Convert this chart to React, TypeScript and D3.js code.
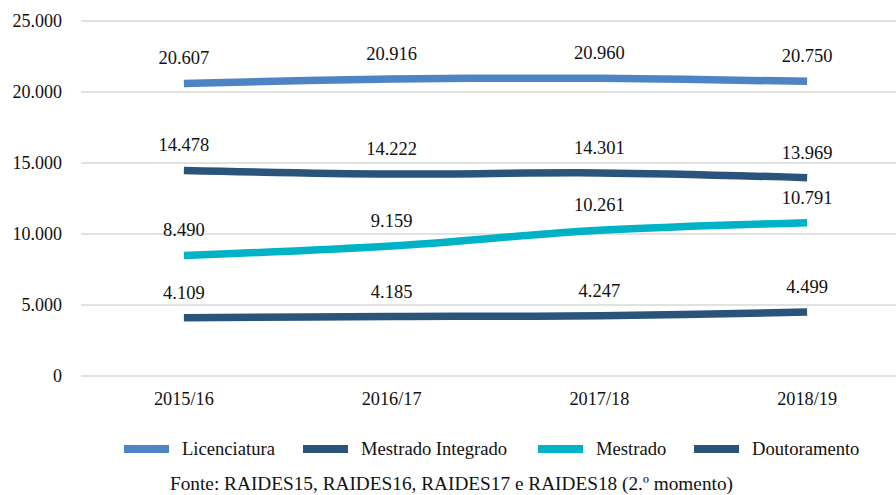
import React from "react";
import * as d3 from "d3";

const categories = ["2015/16", "2016/17", "2017/18", "2018/19"];
const seriesNames = ["Licenciatura", "Mestrado Integrado", "Mestrado", "Doutoramento"];
const licenciatura = [20607, 20916, 20960, 20750];
const mestradoIntegrado = [14478, 14222, 14301, 13969];
const mestrado = [8490, 9159, 10261, 10791];
const doutoramento = [4109, 4185, 4247, 4499];
const yTicks = [0, 5000, 10000, 15000, 20000, 25000];
const colors = ["#4F84C4", "#2A5479", "#00B2C6", "#2A5479"];
const footnote = "Fonte: RAIDES15, RAIDES16, RAIDES17 e RAIDES18 (2.º momento)";

const fmt = (v: number) => {
  const s = String(Math.round(v));
  return s.replace(/\B(?=(\d{3})+(?!\d))/g, ".");
};

const FONT = '"Liberation Serif", "Times New Roman", "DejaVu Serif", serif';
const ts = { fontFamily: FONT };

export default function App() {
  const W = 896, H = 495;
  const x = d3.scaleBand<string>().domain(categories).range([80, 911]);
  const y = d3.scaleLinear().domain([0, 25000]).range([376, 21]);
  const cx = (c: string) => (x(c) as number) + x.bandwidth() / 2;
  const all = [licenciatura, mestradoIntegrado, mestrado, doutoramento];
  const line = d3
    .line<number>()
    .x((_, i) => cx(categories[i]))
    .y((d) => y(d))
    .curve(d3.curveCatmullRom.alpha(0.5));
  const legendX = [124, 303, 538, 694];
  return (
    <svg width={W} height={H} style={{ position: "absolute", left: 0, top: 0, background: "#fff" }}>
      {yTicks.map((t) => (
        <g key={t}>
          <line x1={81} x2={W} y1={y(t)} y2={y(t)} stroke="#D9D9D9" strokeWidth={1.5} />
          <text x={62} y={y(t) + 6.3} textAnchor="end" fontSize={18} fill="#111" style={ts}>
            {fmt(t)}
          </text>
        </g>
      ))}
      {categories.map((c) => (
        <text key={c} x={cx(c)} y={405} textAnchor="middle" fontSize={18.3} fill="#111" style={ts}>
          {c}
        </text>
      ))}
      {all.map((s, si) => (
        <path key={si} d={line(s) || ""} fill="none" stroke={colors[si]} strokeWidth={7.5} strokeLinecap="butt" />
      ))}
      {all.map((s, si) =>
        s.map((v, i) => (
          <text key={si + "-" + i} x={cx(categories[i])} y={y(v) - 19} textAnchor="middle" fontSize={18.5} fill="#111" style={ts}>
            {fmt(v)}
          </text>
        ))
      )}
      {seriesNames.map((n, i) => (
        <g key={n}>
          <rect x={legendX[i]} y={445} width={45} height={8} fill={colors[i]} />
          <text x={legendX[i] + 58} y={455} fontSize={18.6} fill="#111" style={ts}>
            {n}
          </text>
        </g>
      ))}
      <text x={451.5} y={490} textAnchor="middle" fontSize={19.3} fill="#111" style={ts}>
        {footnote}
      </text>
    </svg>
  );
}
